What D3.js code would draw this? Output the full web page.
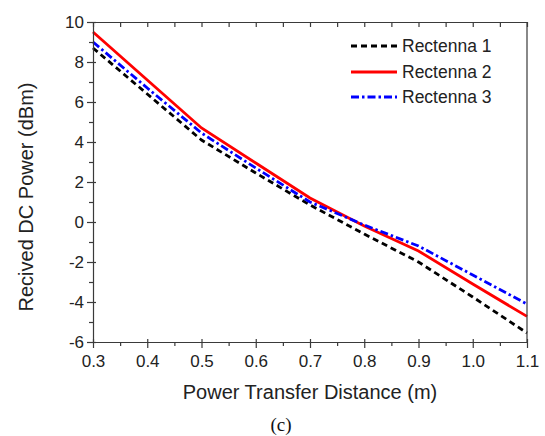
<!DOCTYPE html>
<html><head><meta charset="utf-8">
<script src="https://cdn.jsdelivr.net/npm/d3@7"></script>
<style>body{margin:0;background:#fff}svg{display:block}</style>
</head><body>
<svg id="c" width="545" height="436"></svg>
<script>
const distances = [0.3, 0.4, 0.5, 0.6, 0.7, 0.8, 0.9, 1.0, 1.1];
const rectenna1 = [8.7, 6.4, 4.1, 2.45, 0.85, -0.6, -2.0, -3.75, -5.55];
const rectenna2 = [9.5, 7.1, 4.7, 2.95, 1.2, -0.2, -1.45, -3.1, -4.72];
const rectenna3 = [9.0, 6.7, 4.45, 2.7, 1.0, -0.15, -1.2, -2.65, -4.1];
const seriesNames = ["Rectenna 1", "Rectenna 2", "Rectenna 3"];
const xTicks = [0.3, 0.4, 0.5, 0.6, 0.7, 0.8, 0.9, 1.0, 1.1];
const yTicks = [-6, -4, -2, 0, 2, 4, 6, 8, 10];

const svg = d3.select("#c");
const L = 93, R = 527, T = 22, B = 342;
const x = d3.scaleLinear().domain([0.3, 1.1]).range([L, R]);
const y = d3.scaleLinear().domain([-6, 10]).range([B, T]);
const axisColor = "#3a3a3a";
const font = "'Liberation Sans', Arial, sans-serif";

const series = [
  {name: seriesNames[0], values: rectenna1, color: "#000000", dash: "6,4", width: 2.8},
  {name: seriesNames[1], values: rectenna2, color: "#ff0000", dash: null, width: 2.8},
  {name: seriesNames[2], values: rectenna3, color: "#0000ff", dash: "8,3,2.5,3", width: 2.8}
];

const line = d3.line().x((d, i) => x(distances[i])).y(d => y(d));
series.forEach(s => {
  svg.append("path").attr("d", line(s.values)).attr("fill", "none")
    .attr("stroke", s.color).attr("stroke-width", s.width)
    .attr("stroke-dasharray", s.dash);
});

const xMinor = d3.range(0.35, 1.1, 0.1).map(v => +v.toFixed(2));
const yMinor = d3.range(-5, 10, 2);

// bottom axis
const gB = svg.append("g").attr("transform", `translate(0,${B})`)
  .call(d3.axisBottom(x).tickValues(xTicks).tickFormat(d3.format(".1f")).tickSize(6).tickSizeOuter(0));
gB.selectAll(".tick line").attr("y1", -3);
const gBm = svg.append("g").attr("transform", `translate(0,${B})`)
  .call(d3.axisBottom(x).tickValues(xMinor).tickFormat("").tickSize(4).tickSizeOuter(0));
gBm.select(".domain").remove();

// left axis
const gL = svg.append("g").attr("transform", `translate(${L},0)`)
  .call(d3.axisLeft(y).tickValues(yTicks).tickFormat(d => String(d)).tickSize(6).tickSizeOuter(0));
gL.selectAll(".tick line").attr("x1", 3);
const gLm = svg.append("g").attr("transform", `translate(${L},0)`)
  .call(d3.axisLeft(y).tickValues(yMinor).tickFormat("").tickSize(4).tickSizeOuter(0));
gLm.select(".domain").remove();

// top axis (ticks inward)
svg.append("g").attr("transform", `translate(0,${T})`)
  .call(d3.axisTop(x).tickValues(xTicks.concat(xMinor)).tickFormat("").tickSize(-5).tickSizeOuter(0));

// right frame
svg.append("line").attr("x1", R).attr("x2", R).attr("y1", T).attr("y2", B)
  .attr("stroke", axisColor).attr("stroke-width", 1.2);

svg.selectAll(".domain").attr("stroke", axisColor).attr("stroke-width", 1.2);
svg.selectAll(".tick line").attr("stroke", axisColor).attr("stroke-width", 1.2);

svg.selectAll(".tick text").attr("font-family", font).attr("font-size", 17).attr("fill", "#222");
gB.selectAll(".tick text").attr("dy", null).attr("y", 25);
gL.selectAll(".tick text").attr("x", -9).attr("dy", "0.35em");

// axis titles
svg.append("text").attr("x", 310).attr("y", 399).attr("text-anchor", "middle")
  .attr("font-family", font).attr("font-size", 20).attr("fill", "#222")
  .text("Power Transfer Distance (m)");
svg.append("text").attr("transform", "translate(33,197) rotate(-90)").attr("text-anchor", "middle")
  .attr("font-family", font).attr("font-size", 20).attr("fill", "#222")
  .text("Recived DC Power (dBm)");

// caption
svg.append("text").attr("x", 281).attr("y", 431).attr("text-anchor", "middle")
  .attr("font-family", "'Liberation Serif', 'Times New Roman', serif").attr("font-size", 19).attr("fill", "#111")
  .text("(c)");

// legend
const legY = [46, 72, 97];
series.forEach((s, i) => {
  svg.append("line").attr("x1", 351).attr("x2", 397).attr("y1", legY[i]).attr("y2", legY[i])
    .attr("stroke", s.color).attr("stroke-width", s.width).attr("stroke-dasharray", s.dash);
  svg.append("text").attr("x", 402).attr("y", legY[i]).attr("dy", "0.35em")
    .attr("font-family", font).attr("font-size", 17.5).attr("fill", "#222").text(s.name);
});
</script>
</body></html>
